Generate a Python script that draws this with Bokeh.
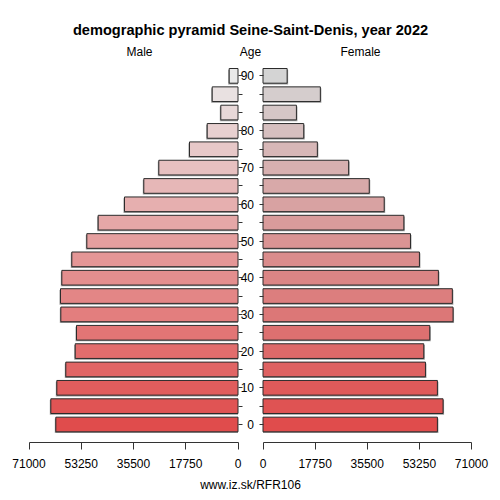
from bokeh.plotting import figure
from bokeh.models import Range1d, LinearAxis, FixedTicker, Label, Title, ColumnDataSource
from bokeh.transform import dodge
from bokeh.embed import file_html
from bokeh.resources import INLINE

# ---------------- data ----------------
age_rows = list(range(20))
age_labels = ["0", "", "10", "", "20", "", "30", "", "40", "", "50", "", "60", "", "70", "", "80", "", "", "90"]
male = [61890, 63590, 61550, 58500, 55300, 54860, 60190, 60300, 59850, 56460,
        51360, 47500, 38560, 32000, 26900, 16480, 10460, 5840, 8760, 2990]
female = [59390, 61320, 59390, 55320, 54750, 56790, 64720, 64480, 59730, 53270,
          50220, 47960, 41270, 36180, 29160, 18510, 13870, 11380, 19530, 8220]
x_ticks = [0, 17750, 35500, 53250, 71000]
x_tick_labels = ["0", "17750", "35500", "53250", "71000"]
XMAX = 71000

# ---------------- layout / style ----------------
FONT = "Liberation Sans"
W, H = 500, 500
BL, BR, BT, BB = 6, 6, 42, 28
F = W - BL - BR                      # frame width px
M_LEFT, M_ZERO = 28.5, 237.5         # male panel pixel extent (XMAX .. 0)
F_ZERO, F_RIGHT = 262.5, 471.0       # female panel pixel extent (0 .. XMAX)
MID = (M_ZERO + F_ZERO) / 2
ROW_PX = 18.35
ROW0_PX = 424                        # pixel row of first bar centre
Y_START = -(H - BB - ROW0_PX) / ROW_PX
Y_END = (ROW0_PX - BT) / ROW_PX
Y_AX = -(442.3 - ROW0_PX) / ROW_PX
HEAD_Y = (ROW0_PX - 51) / ROW_PX

def mval(px):
    return XMAX * (M_ZERO - px) / (M_ZERO - M_LEFT)

def fval(px):
    return XMAX * (px - F_ZERO) / (F_RIGHT - F_ZERO)

def grad(c0, c1, n):
    out = []
    for i in range(n):
        t = i / (n - 1)
        r, g, b = (round(c0[k] + (c1[k] - c0[k]) * t) for k in range(3))
        out.append("#%02x%02x%02x" % (r, g, b))
    return out

mcol = grad((224, 76, 76), (233, 233, 233), len(age_rows))
fcol = grad((224, 76, 76), (212, 212, 212), len(age_rows))

src = ColumnDataSource(dict(y=age_rows, male=male, female=female, mcol=mcol, fcol=fcol))

p = figure(width=W, height=H, output_backend="svg", toolbar_location=None,
           x_axis_type=None, y_axis_type=None,
           x_range=Range1d(fval(BL), fval(BL + F)),
           y_range=Range1d(Y_START, Y_END),
           min_border_left=BL, min_border_right=BR, min_border_top=BT, min_border_bottom=BB)
p.extra_x_ranges = {"male": Range1d(mval(BL), mval(BL + F))}
p.grid.visible = False
p.outline_line_color = None
p.background_fill_color = "white"
p.border_fill_color = "white"

p.title.text = "demographic pyramid Seine-Saint-Denis, year 2022"
p.title.align = "center"
p.title.text_font = FONT
p.title.text_font_size = "14.6px"
p.title.text_font_style = "bold"
p.title.text_color = "black"

# shadows
sh = 340
p.hbar(y=dodge("y", -0.07, range=p.y_range), left=0, right=dodge("male", sh, range=p.extra_x_ranges["male"]),
       height=0.8, source=src, x_range_name="male", fill_color="#9a9a9a", line_color=None)
p.hbar(y=dodge("y", -0.07, range=p.y_range), left=0, right=dodge("female", sh, range=p.x_range),
       height=0.8, source=src, fill_color="#9a9a9a", line_color=None)
# bars
p.hbar(y="y", left=0, right="male", height=0.8, source=src, x_range_name="male",
       fill_color="mcol", line_color="#2b2b2b", line_width=1)
p.hbar(y="y", left=0, right="female", height=0.8, source=src,
       fill_color="fcol", line_color="#2b2b2b", line_width=1)

def style_x(ax):
    ax.ticker = FixedTicker(ticks=x_ticks)
    ax.major_label_overrides = {t: l for t, l in zip(x_ticks, x_tick_labels)}
    ax.bounds = (0, XMAX)
    ax.major_tick_out = 7
    ax.major_tick_in = 0
    ax.minor_tick_line_color = None
    ax.axis_line_color = "#333333"
    ax.major_tick_line_color = "#333333"
    ax.major_label_text_font = FONT
    ax.major_label_text_font_size = "12px"
    ax.major_label_text_color = "black"
    ax.major_label_standoff = 9

xm = LinearAxis(x_range_name="male", fixed_location=Y_AX)
style_x(xm)
p.add_layout(xm, "below")
xf = LinearAxis(fixed_location=Y_AX)
style_x(xf)
p.add_layout(xf, "below")

foot = Title(text="www.iz.sk/RFR106", align="center", vertical_align="top", text_font=FONT,
             text_font_size="12px", text_font_style="normal", text_color="black")
p.add_layout(foot, "below")

# age axis (labels) on female side
ya = LinearAxis(fixed_location=0)
ya.ticker = FixedTicker(ticks=age_rows)
ya.major_label_overrides = {i: l for i, l in zip(age_rows, age_labels)}
ya.axis_line_color = None
ya.major_tick_out = 4
ya.major_tick_in = 0
ya.minor_tick_line_color = None
ya.major_tick_line_color = "#333333"
ya.major_label_text_font = FONT
ya.major_label_text_font_size = "12px"
ya.major_label_text_color = "black"
ya.major_label_standoff = 5
p.add_layout(ya, "left")

# tick marks on male side
ym = LinearAxis(x_range_name="male", fixed_location=0)
ym.ticker = FixedTicker(ticks=age_rows)
ym.major_label_overrides = {i: "" for i in age_rows}
ym.axis_line_color = None
ym.major_tick_out = 4
ym.major_tick_in = 0
ym.minor_tick_line_color = None
ym.major_tick_line_color = "#333333"
p.add_layout(ym, "right")

# headings
for txt, xv, rn in [("Male", mval(139), "male"), ("Female", fval(360), "default"),
                    ("Age", fval(MID), "default")]:
    p.add_layout(Label(x=xv, y=HEAD_Y, x_range_name=rn, text=txt, text_align="center",
                       text_baseline="middle", text_font=FONT, text_font_size="12px",
                       text_color="black"))

open("out.html", "w").write(file_html(p, INLINE))
